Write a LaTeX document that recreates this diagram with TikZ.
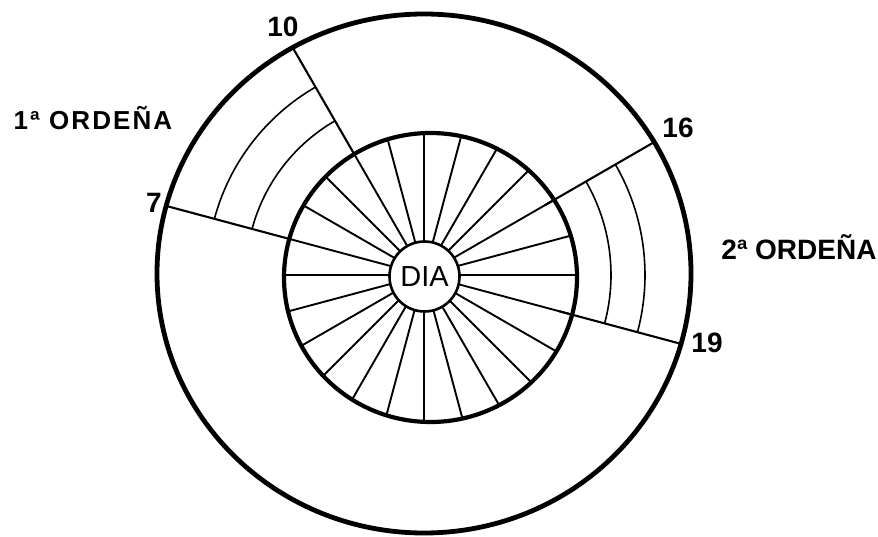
\documentclass[tikz,border=0pt]{standalone}
\usepackage{fontspec}
\setmainfont{Liberation Sans}
\begin{document}
\begin{tikzpicture}[x=1pt,y=1pt,
  thickring/.style={line width=4.8pt},
  innerring/.style={line width=4.2pt},
  hubring/.style={line width=2.6pt},
  spokeline/.style={line width=1.9pt},
  hourline/.style={line width=2.1pt},
  subarc/.style={line width=1.6pt},
  numlbl/.style={font=\bfseries\fontsize{28}{28}\selectfont, inner sep=0pt},
  ordlblA/.style={font=\bfseries\fontsize{26}{26}\selectfont\addfontfeature{LetterSpace=8}, inner sep=0pt},
  ordlblB/.style={font=\bfseries\fontsize{28}{28}\selectfont, inner sep=0pt}]
\useasboundingbox (0,0) rectangle (878,536);
\coordinate (H) at (424,261);
\coordinate (O) at (424,262.5);
\coordinate (I) at (430.5,258.5);
% spokes inside the inner ring
\begin{scope}
  \clip (I) ellipse [x radius=146.5, y radius=144.5];
  \foreach \a in {0,15,...,345}
    \draw[spokeline] ([shift={(\a:30)}]H) -- ([shift={(\a:200)}]H);
\end{scope}
% hour lines 7, 10, 16, 19
\begin{scope}
  \clip (O) ellipse [x radius=267, y radius=259.5];
  \foreach \a in {165,120,30,-15}
    \draw[hourline] ([shift={(\a:140)}]H) -- ([shift={(\a:300)}]H);
\end{scope}
% arcs of the milking sectors
\foreach \r in {178,217}
  \draw[subarc] ([shift={(120:\r)}]H) arc[start angle=120, end angle=165, radius=\r];
\foreach \r in {187,221}
  \draw[subarc] ([shift={(-15:\r)}]H) arc[start angle=-15, end angle=30, radius=\r];
% rings
\draw[thickring] (O) ellipse [x radius=267, y radius=259.5];
\draw[innerring] (I) ellipse [x radius=146.5, y radius=144.5];
\node[circle, draw, hubring, fill=white, minimum size=70pt, inner sep=0pt,
      font=\fontsize{29}{29}\selectfont] (dia) at (424.5,259.5) {DIA};
% labels
\node[numlbl] (h10) at (283,509) {10};
\node[numlbl] (h16) at (678,408) {16};
\node[numlbl] (h7) at (154,333) {7};
\node[numlbl] (h19) at (707,193) {19};
\node[ordlblA] (ord1) at (93,418) {1ª ORDEÑA};
\node[ordlblB] (ord2) at (799,289) {2ª ORDEÑA};
\end{tikzpicture}
\end{document}
